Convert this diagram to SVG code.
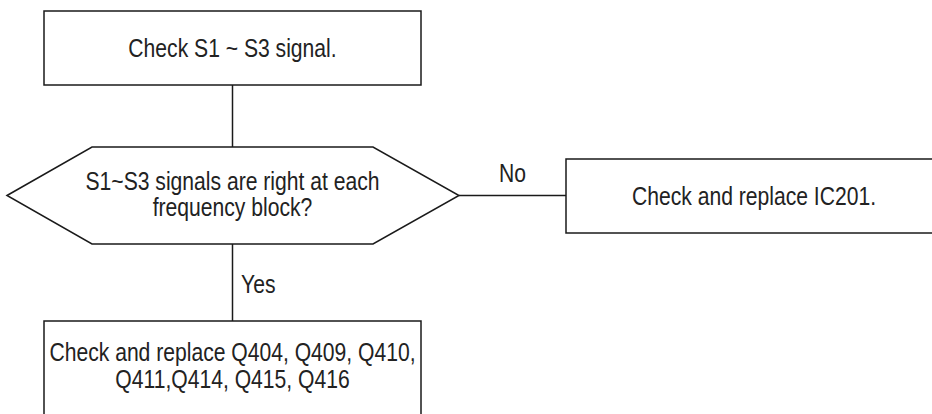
<svg xmlns="http://www.w3.org/2000/svg" width="932" height="414" viewBox="0 0 932 414">
<style>
.box{fill:#fff;stroke:#1a1a1a;stroke-width:1.5}
.ln{fill:none;stroke:#1a1a1a;stroke-width:1.5}
.t{font-family:"Liberation Sans",Arial,sans-serif;font-size:25px;fill:#222}
.c{text-anchor:middle}
</style>
<rect width="932" height="414" fill="#fff"/>
<g id="connectors">
<line class="ln" x1="232.5" y1="85" x2="232.5" y2="147"/>
<line class="ln" x1="232.5" y1="244" x2="232.5" y2="321"/>
<line class="ln" x1="459" y1="195.5" x2="566" y2="195.5"/>
<g transform="translate(499,182) scale(0.845,1)"><text class="t" x="0" y="0">No</text></g>
<g transform="translate(241,293) scale(0.845,1)"><text class="t" x="0" y="0">Yes</text></g>
</g>
<g id="n1">
<rect class="box" x="44" y="11" width="377" height="74"/>
<g transform="translate(232.5,57) scale(0.845,1)"><text class="t c" x="0" y="0">Check S1 ~ S3 signal.</text></g>
</g>
<g id="n2">
<polygon class="box" points="7,195.5 92,147 373,147 459,195.5 373,244 92,244"/>
<g transform="translate(232.5,190) scale(0.845,1)"><text class="t c" x="0" y="0">S1~S3 signals are right at each</text></g>
<g transform="translate(232.5,216) scale(0.845,1)"><text class="t c" x="0" y="0">frequency block?</text></g>
</g>
<g id="n3">
<rect class="box" x="566" y="159" width="380" height="74"/>
<g transform="translate(754,205) scale(0.845,1)"><text class="t c" x="0" y="0">Check and replace IC201.</text></g>
</g>
<g id="n4">
<rect class="box" x="44" y="321" width="377" height="110"/>
<g transform="translate(232.5,361) scale(0.845,1)"><text class="t c" x="0" y="0">Check and replace Q404, Q409, Q410,</text></g>
<g transform="translate(232.5,388) scale(0.845,1)"><text class="t c" x="0" y="0">Q411,Q414, Q415, Q416</text></g>
</g>
</svg>
